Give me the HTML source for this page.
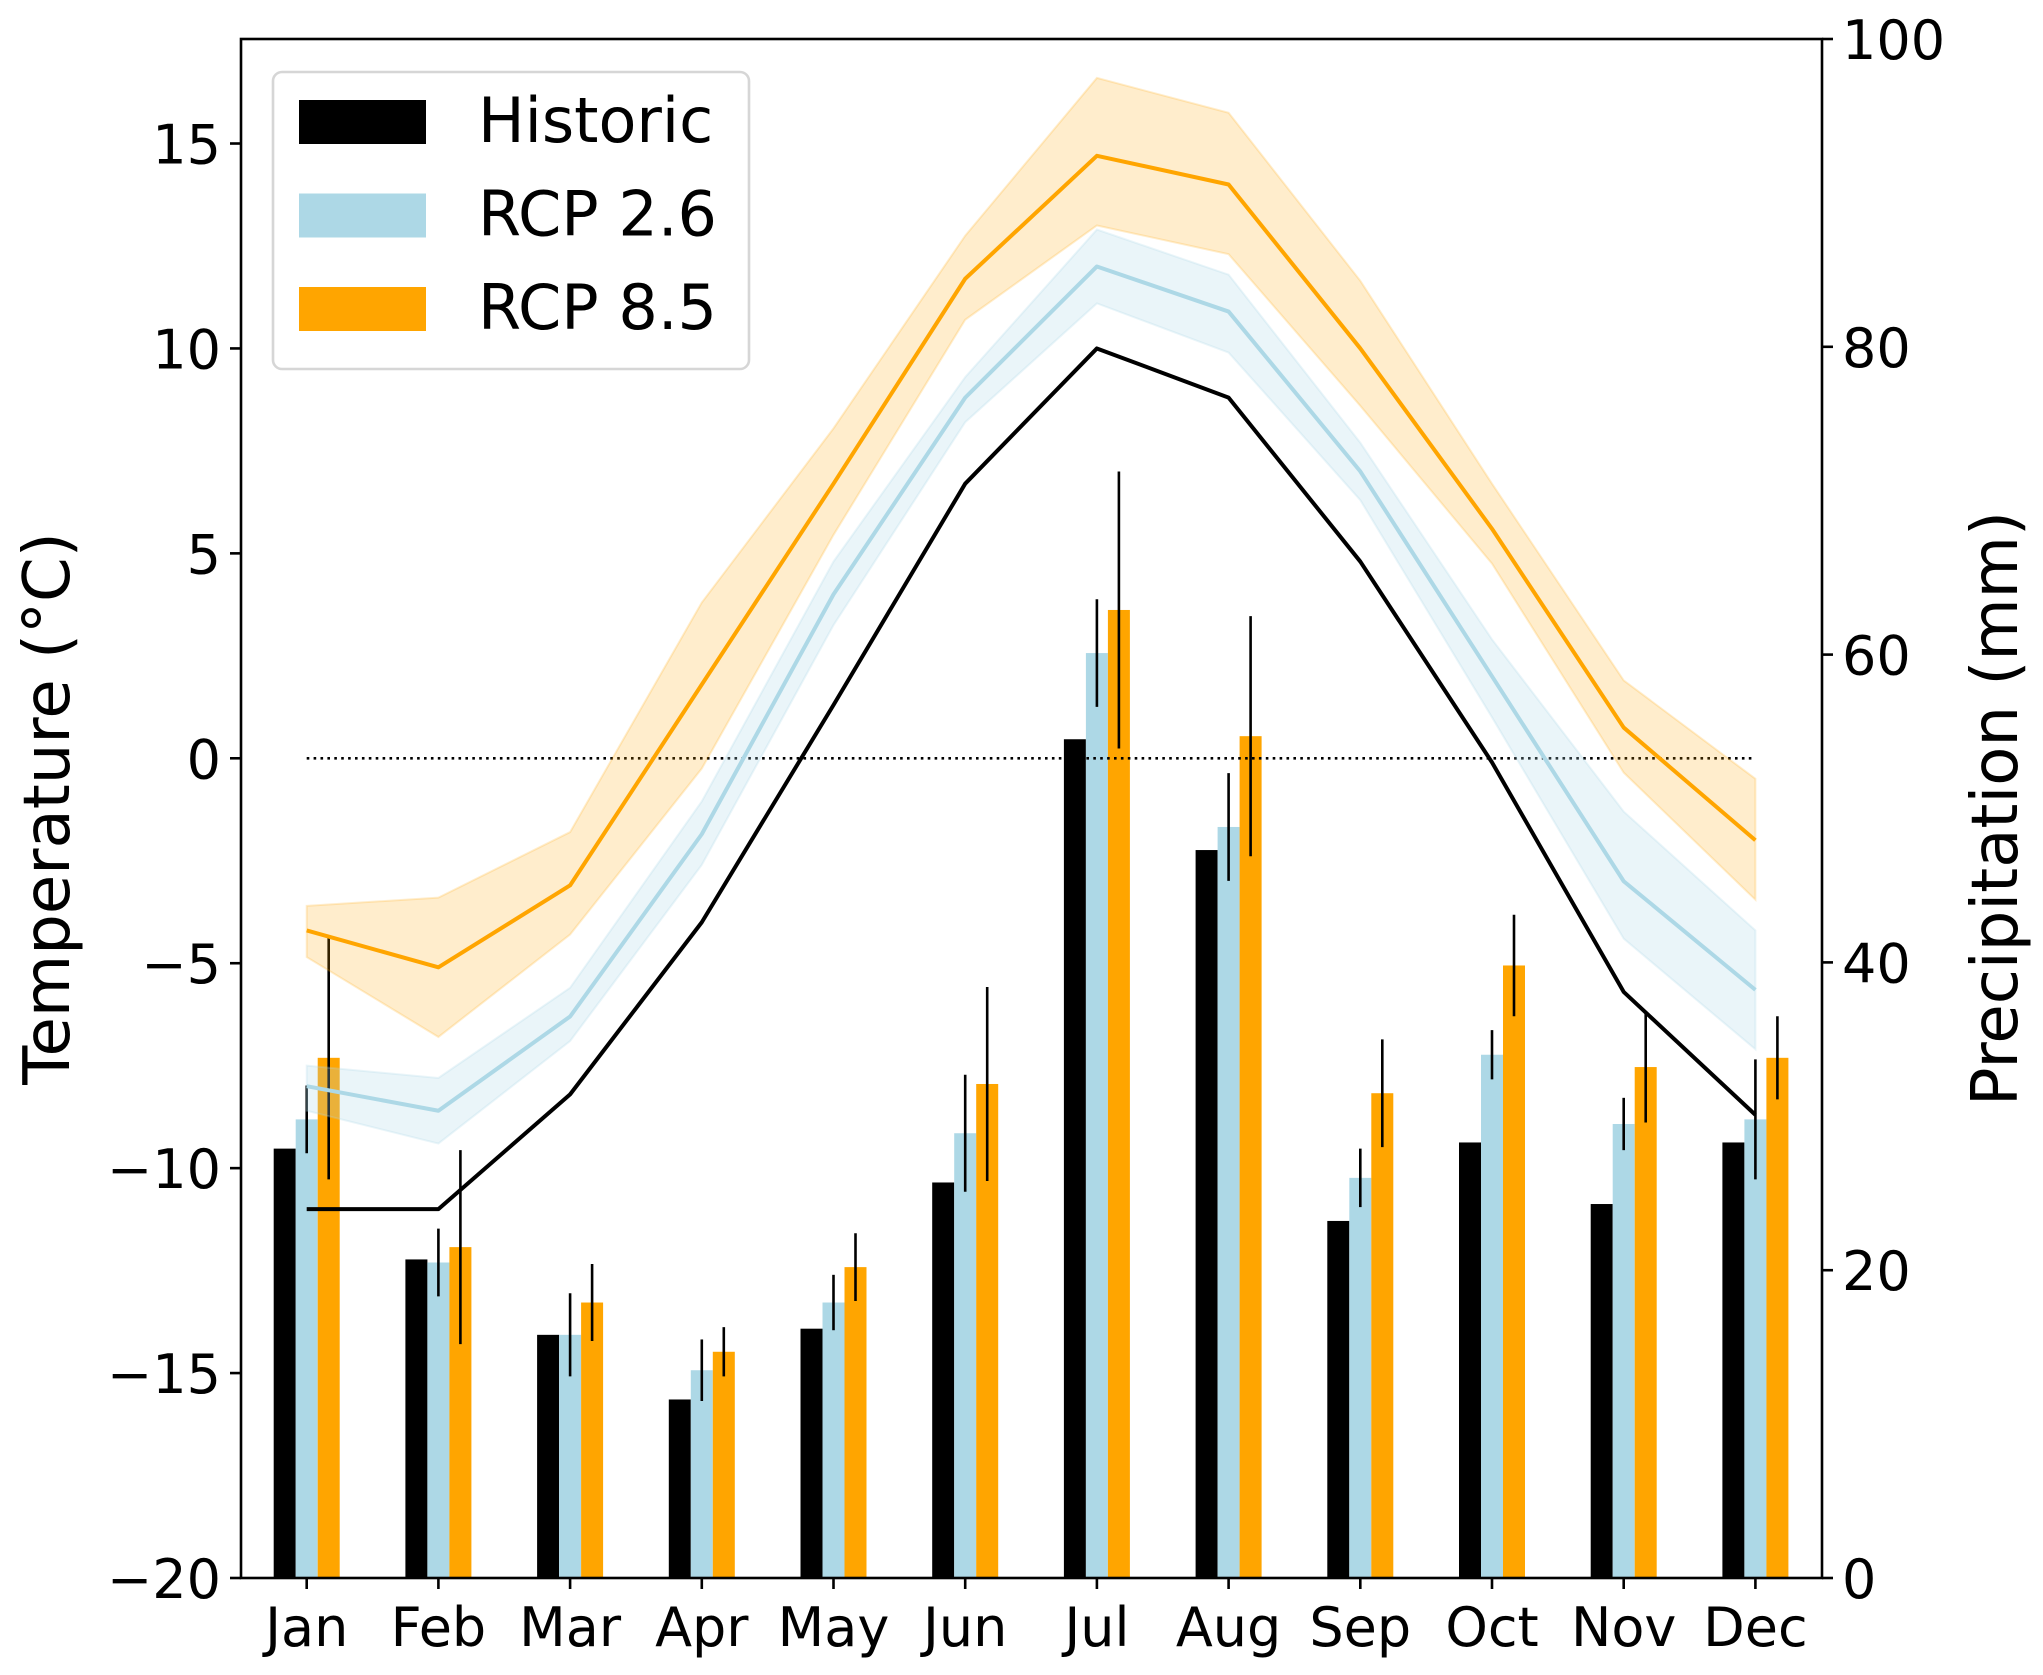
<!DOCTYPE html>
<html><head><meta charset="utf-8"><style>
html,body{margin:0;padding:0;background:#fff;}
svg{display:block;font-family:"DejaVu Sans","Liberation Sans",sans-serif;}
</style></head><body>
<svg id="chart" width="2043" height="1675" viewBox="0 0 2043 1675" xmlns="http://www.w3.org/2000/svg"></svg>
<script>
const months=["Jan","Feb","Mar","Apr","May","Jun","Jul","Aug","Sep","Oct","Nov","Dec"];
const tempHist=[-11.0,-11.0,-8.2,-4.0,1.3,6.7,10.0,8.8,4.8,-0.1,-5.7,-8.7];
const temp26=[-8.0,-8.6,-6.3,-1.85,4.0,8.8,12.0,10.9,7.0,2.0,-3.0,-5.65];
const temp26Hi=[-7.5,-7.8,-5.6,-1.05,4.8,9.3,12.9,11.8,7.7,2.9,-1.3,-4.2];
const temp26Lo=[-8.6,-9.4,-6.9,-2.6,3.25,8.2,11.1,9.9,6.3,1.0,-4.4,-7.1];
const temp85=[-4.2,-5.1,-3.1,1.8,6.7,11.7,14.7,14.0,10.0,5.6,0.75,-2.0];
const temp85Hi=[-3.6,-3.4,-1.8,3.8,8.05,12.75,16.6,15.75,11.65,6.7,1.9,-0.5];
const temp85Lo=[-4.85,-6.8,-4.3,-0.25,5.45,10.7,13.0,12.3,8.6,4.75,-0.35,-3.45];
const precHist=[27.9,20.7,15.8,11.6,16.2,25.7,54.5,47.3,23.2,28.3,24.3,28.3];
const prec26=[29.8,20.5,15.8,13.5,17.9,28.9,60.1,48.8,26.0,34.0,29.5,29.8];
const prec26Err=[2.2,2.2,2.7,2.0,1.8,3.8,3.5,3.5,1.9,1.6,1.7,3.9];
const prec85=[33.8,21.5,17.9,14.7,20.2,32.1,62.9,54.7,31.5,39.8,33.2,33.8];
const prec85Err=[7.9,6.3,2.5,1.6,2.2,6.3,9.0,7.8,3.5,3.3,3.6,2.7];
const tempTicks=[-20,-15,-10,-5,0,5,10,15];
const precTicks=[0,20,40,60,80,100];

const L=241,R=1822,T=39,B=1578;
const tMin=-20,tMax=17.55;
const xC=i=>306.7+i*131.7;
const yT=v=>B-(v-tMin)/(tMax-tMin)*(B-T);
const yP=v=>B-v/100*(B-T);
const svg=document.getElementById('chart');
const NS='http://www.w3.org/2000/svg';
function mk(tag,attrs,parent){const e=document.createElementNS(NS,tag);for(const k in attrs)e.setAttribute(k,attrs[k]);(parent||svg).appendChild(e);return e;}

const bw=22;
const barSets=[[precHist,'#000000',-33,null,'bar-historic'],[prec26,'#add8e6',-11,prec26Err,'bar-rcp26'],[prec85,'#ffa500',11,prec85Err,'bar-rcp85']];
barSets.forEach(([vals,col,off,err,nm])=>{
  vals.forEach((v,i)=>{
    const r=mk('rect',{x:xC(i)+off,y:yP(v),width:bw,height:B-yP(v),fill:col});
    
    
  });
});
barSets.forEach(([vals,col,off,err,nm])=>{
  if(!err)return;
  vals.forEach((v,i)=>{
    const x=xC(i)+off+bw/2;
    const l=mk('line',{x1:x,x2:x,y1:yP(v+err[i]),y2:yP(v-err[i]),stroke:'#000','stroke-width':2.6});
    
    
  });
});

const z=mk('line',{x1:xC(0),x2:xC(11),y1:yT(0),y2:yT(0),stroke:'#000','stroke-width':2.6,'stroke-dasharray':'2.6 4.3'});



function band(hi,lo,col,op,nm){
  let d=hi.map((v,i)=>(i?'L':'M')+xC(i)+','+yT(v)).join('');
  for(let i=lo.length-1;i>=0;i--)d+='L'+xC(i)+','+yT(lo[i]);
  const p=mk('path',{d:d+'Z',fill:col,'fill-opacity':op,stroke:col,'stroke-opacity':op,'stroke-width':2});
  
  
}
band(temp85Hi,temp85Lo,'#ffa500',0.2,'rcp85-temp-band');
band(temp26Hi,temp26Lo,'#add8e6',0.25,'rcp26-temp-band');
function line(vals,col,nm){
  const p=mk('polyline',{points:vals.map((v,i)=>xC(i)+','+yT(v)).join(' '),fill:'none',stroke:col,'stroke-width':4,'stroke-linejoin':'round'});
  
  
}
line(tempHist,'#000000','historic-temp-line');
line(temp26,'#add8e6','rcp26-temp-line');
line(temp85,'#ffa500','rcp85-temp-line');

const fr=mk('rect',{x:L,y:T,width:R-L,height:B-T,fill:'none',stroke:'#000','stroke-width':2.6});



tempTicks.forEach(v=>{
  mk('line',{x1:L-11,x2:L,y1:yT(v),y2:yT(v),stroke:'#000','stroke-width':2.6});
  const t=mk('text',{x:L-20,y:yT(v)+20,'text-anchor':'end','font-size':54});
  t.textContent=v<0?'\u2212'+Math.abs(v):String(v);
  
  
});
precTicks.forEach(v=>{
  mk('line',{x1:R,x2:R+11,y1:yP(v),y2:yP(v),stroke:'#000','stroke-width':2.6});
  const t=mk('text',{x:R+20,y:yP(v)+20,'text-anchor':'start','font-size':54});
  t.textContent=String(v);
  
  
});
months.forEach((m,i)=>{
  mk('line',{x1:xC(i),x2:xC(i),y1:B,y2:B+11,stroke:'#000','stroke-width':2.6});
  const t=mk('text',{x:xC(i),y:B+68,'text-anchor':'middle','font-size':54});
  t.textContent=m;
  
  
});
const yl=mk('text',{x:0,y:0,'text-anchor':'middle','font-size':64,transform:'translate(69,'+((T+B)/2)+') rotate(-90)'});
yl.textContent='Temperature (\u00b0C)';


const yr=mk('text',{x:0,y:0,'text-anchor':'middle','font-size':64,transform:'translate(2017,'+((T+B)/2)+') rotate(-90)'});
yr.textContent='Precipitation (mm)';



const lg=mk('g',{});


mk('rect',{x:273,y:72,width:476,height:297,rx:9,fill:'#fff','fill-opacity':0.8,stroke:'#d6d6d6','stroke-width':2.6},lg);
const legItems=[['Historic','#000000'],['RCP 2.6','#add8e6'],['RCP 8.5','#ffa500']];
legItems.forEach(([lab,col],i)=>{
  const y=100+i*93.5;
  mk('rect',{x:299,y:y,width:127,height:44,fill:col},lg);
  const t=mk('text',{x:478,y:y+42,'font-size':62},lg);
  t.textContent=lab;
  
  
});
</script>
</body></html>
